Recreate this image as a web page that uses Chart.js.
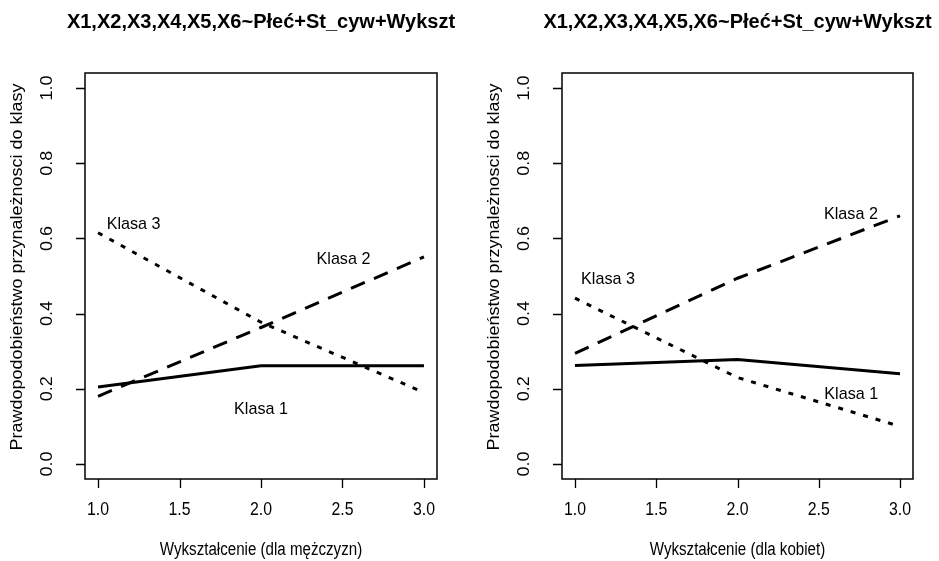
<!DOCTYPE html>
<html>
<head>
<meta charset="utf-8">
<script src="https://cdn.jsdelivr.net/npm/chart.js@4/dist/chart.umd.min.js"></script>
<style>
  html, body { margin: 0; padding: 0; background: #ffffff; }
  #wrap { position: relative; width: 939px; height: 561px; overflow: hidden; }
  #c1 { position: absolute; left: 0; top: 0; }
  #c2 { position: absolute; left: 470px; top: 0; }
</style>
</head>
<body>
<div id="wrap">
  <canvas id="c1" width="470" height="561"></canvas>
  <canvas id="c2" width="469" height="561"></canvas>
</div>
<script>
// ---- data ----
const wyksztalcenie = [1, 2, 3];
const xTicks = [1.0, 1.5, 2.0, 2.5, 3.0];
const yTicks = [0.0, 0.2, 0.4, 0.6, 0.8, 1.0];

const mKlasa1 = [0.205, 0.261, 0.261];
const mKlasa2 = [0.180, 0.363, 0.551];
const mKlasa3 = [0.615, 0.377, 0.190];

const kKlasa1 = [0.262, 0.278, 0.240];
const kKlasa2 = [0.294, 0.494, 0.660];
const kKlasa3 = [0.441, 0.230, 0.100];

const tytul = "X1,X2,X3,X4,X5,X6~Płeć+St_cyw+Wykszt";
const yTytul = "Prawdopodobieństwo przynależnosci do klasy";
const xTytulM = "Wykształcenie (dla mężczyzn)";
const xTytulK = "Wykształcenie (dla kobiet)";

// label anchors (data coordinates)
const mEtykiety = [
  { t: "Klasa 3", x: 1.218, y: 0.638 },
  { t: "Klasa 2", x: 2.506, y: 0.545 },
  { t: "Klasa 1", x: 2.0,   y: 0.145 }
];
const kEtykiety = [
  { t: "Klasa 2", x: 2.698, y: 0.664 },
  { t: "Klasa 3", x: 1.203, y: 0.492 },
  { t: "Klasa 1", x: 2.700, y: 0.186 }
];

// ---- drawing helpers ----
const FAM = '"Liberation Sans", Arial, Helvetica, sans-serif';

function txt(ctx, s, x, y, font, sx, rot) {
  ctx.save();
  ctx.translate(x, y);
  ctx.scale(sx, 1);
  if (rot) ctx.rotate(-Math.PI / 2);
  ctx.font = font;
  ctx.fillStyle = '#000';
  ctx.textAlign = 'center';
  ctx.textBaseline = 'middle';
  ctx.fillText(s, 0, 0);
  ctx.restore();
}

function makePlugin(xTitle, labels, yTitleX, yTickX) {
  return {
    id: 'rstyle',
    afterDatasetsDraw(chart) {
      const ctx = chart.ctx;
      const a = chart.chartArea;
      const xs = chart.scales.x, ys = chart.scales.y;
      ctx.save();
      // box
      ctx.strokeStyle = '#000';
      ctx.lineWidth = 1.5;
      ctx.strokeRect(a.left, a.top, a.right - a.left, a.bottom - a.top);
      // ticks
      ctx.lineWidth = 1.3;
      ctx.beginPath();
      xTicks.forEach(v => {
        const px = Math.round(xs.getPixelForValue(v)) + 0.5;
        ctx.moveTo(px, a.bottom);
        ctx.lineTo(px, a.bottom + 9);
      });
      yTicks.forEach(v => {
        const py = Math.round(ys.getPixelForValue(v)) + 0.5;
        ctx.moveTo(a.left, py);
        ctx.lineTo(a.left - 9, py);
      });
      ctx.stroke();
      ctx.restore();
      // tick labels
      xTicks.forEach(v => {
        txt(ctx, v.toFixed(1), xs.getPixelForValue(v), 510, '18px ' + FAM, 0.88, false);
      });
      yTicks.forEach(v => {
        txt(ctx, v.toFixed(1), yTickX, ys.getPixelForValue(v), '18px ' + FAM, 0.9, true);
      });
      const cx = (a.left + a.right) / 2;
      const cy = (a.top + a.bottom) / 2;
      // main title
      txt(ctx, tytul, cx, 22, 'bold 20px ' + FAM, 1.0, false);
      // axis titles
      txt(ctx, xTitle, cx, 550, '18px ' + FAM, 0.84, false);
      txt(ctx, yTytul, yTitleX, cy - 9, '18px ' + FAM, 0.88, true);
      // class labels
      labels.forEach(l => {
        txt(ctx, l.t, xs.getPixelForValue(l.x), ys.getPixelForValue(l.y), '17px ' + FAM, 0.95, false);
      });
    }
  };
}

function pts(vals) { return wyksztalcenie.map((x, i) => ({ x: x, y: vals[i] })); }

function makeChart(id, k1, k2, k3, xTitle, labels, pad, yTitleX, yTickX) {
  return new Chart(document.getElementById(id), {
    type: 'line',
    data: {
      datasets: [
        { label: 'Klasa 1', data: pts(k1), borderColor: '#000', borderWidth: 3, borderDash: [], pointRadius: 0, tension: 0, fill: false },
        { label: 'Klasa 2', data: pts(k2), borderColor: '#000', borderWidth: 3, borderDash: [15, 10], pointRadius: 0, tension: 0, fill: false },
        { label: 'Klasa 3', data: pts(k3), borderColor: '#000', borderWidth: 3, borderDash: [5, 8], pointRadius: 0, tension: 0, fill: false }
      ]
    },
    options: {
      responsive: false,
      animation: false,
      events: [],
      layout: { padding: pad },
      plugins: { legend: { display: false }, tooltip: { enabled: false }, title: { display: false } },
      scales: {
        x: { type: 'linear', min: 0.92, max: 3.08, display: false },
        y: { type: 'linear', min: -0.04, max: 1.04, display: false }
      }
    },
    plugins: [makePlugin(xTitle, labels, yTitleX, yTickX)]
  });
}

makeChart('c1', mKlasa1, mKlasa2, mKlasa3, xTytulM, mEtykiety,
  { left: 85, right: 33, top: 73, bottom: 82 }, 18, 48);
makeChart('c2', kKlasa1, kKlasa2, kKlasa3, xTytulK, kEtykiety,
  { left: 92, right: 26, top: 73, bottom: 82 }, 25, 55);
</script>
</body>
</html>
